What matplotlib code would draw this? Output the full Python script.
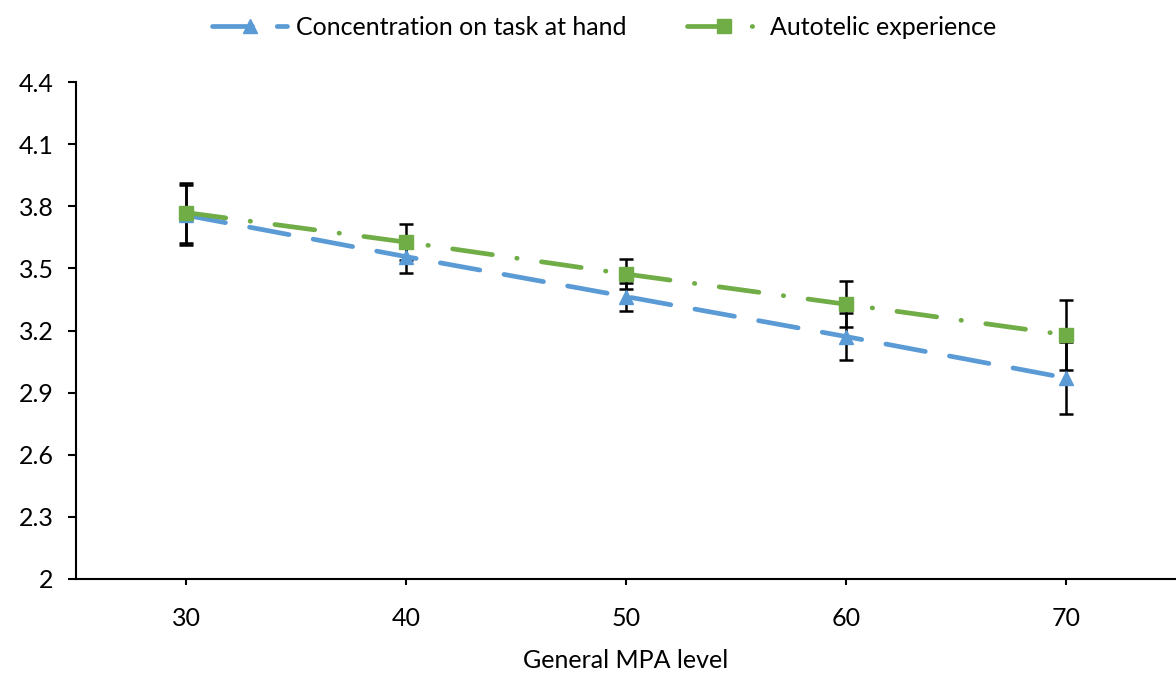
import matplotlib
matplotlib.use("Agg")
import matplotlib.pyplot as plt

plt.rcParams['font.family'] = ['Lato', 'DejaVu Sans']

mpa = [30, 40, 50, 60, 70]
concentration = [3.757, 3.557, 3.364, 3.171, 2.971]
concentration_err = [0.145, 0.08, 0.068, 0.115, 0.175]
autotelic = [3.77, 3.627, 3.473, 3.327, 3.179]
autotelic_err = [0.145, 0.086, 0.073, 0.11, 0.17]
yticks = [2, 2.3, 2.6, 2.9, 3.2, 3.5, 3.8, 4.1, 4.4]

blue = '#5B9BD5'
green = '#70AD47'

fig = plt.figure(figsize=(11.76, 6.73), dpi=100)
ax = fig.add_axes([0.0646, 0.1397, 0.9354, 0.7383])

ax.errorbar(mpa, concentration, yerr=concentration_err, fmt='none', ecolor='black',
            elinewidth=1.8, capsize=5, capthick=1.8, zorder=2)
ax.errorbar(mpa, autotelic, yerr=autotelic_err, fmt='none', ecolor='black',
            elinewidth=1.8, capsize=5, capthick=1.8, zorder=2)

ax.plot(mpa, concentration, color=blue, lw=3.4, linestyle=(0, (8.5, 5.2)),
        dash_capstyle='round', marker='^', markersize=10, markeredgecolor=blue,
        markerfacecolor=blue, label='Concentration on task at hand', zorder=3)
ax.plot(mpa, autotelic, color=green, lw=3.4, linestyle=(0, (8.5, 5.2, 0.1, 5.2)),
        dash_capstyle='round', marker='s', markersize=10, markeredgecolor=green,
        markerfacecolor=green, label='Autotelic experience', zorder=4)

ax.set_xlim(25, 75)
ax.set_ylim(2, 4.4)
ax.set_xticks(mpa)
ax.set_yticks(yticks)
ax.set_yticklabels(['%g' % v for v in yticks])
ax.tick_params(axis='both', labelsize=18, width=1.5, color='black')
ax.tick_params(axis='y', length=6, pad=10)
ax.tick_params(axis='x', length=4, pad=16)
for s in ['top', 'right']:
    ax.spines[s].set_visible(False)
for s in ['left', 'bottom']:
    ax.spines[s].set_linewidth(1.5)
ax.set_xlabel('General MPA level', fontsize=18, labelpad=14)

fig.legend(loc='upper center', bbox_to_anchor=(0.514, 1.01), ncol=2, frameon=False,
           fontsize=18, handlelength=3.0, columnspacing=2.4, handletextpad=0.35)

fig.savefig('out.png', dpi=100)
